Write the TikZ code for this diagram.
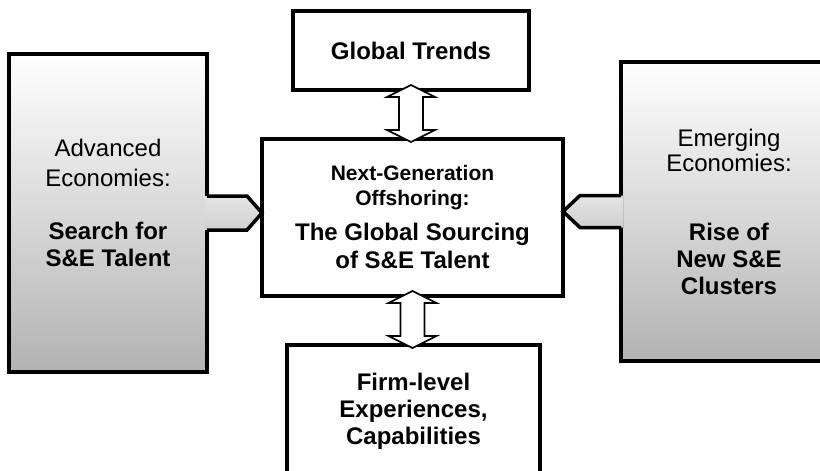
\documentclass[tikz,border=0pt]{standalone}
\usepackage{fontspec}
\setmainfont{Liberation Sans}
\usetikzlibrary{calc}

\begin{document}
\begin{tikzpicture}[
  x=1pt,y=-1pt,
  box/.style={rectangle,draw=black,line width=3.5pt,fill=white,inner sep=0pt,outer sep=0pt,
    align=center,font=\fontsize{24}{27}\selectfont},
  side/.style={box,top color=white,bottom color=black!30},
  tabfill/.style={top color=black!10,bottom color=black!19},
  tabline/.style={line width=3.5pt,line join=miter},
  twoway/.style={draw=black,line width=1.6pt,fill=white,line join=miter}
]

\useasboundingbox (0,0) rectangle (820,471);
\clip (0,0) rectangle (820,471);

\node[box,minimum width=236pt,minimum height=79pt] (trends) at (411,50.5) {\textbf{Global Trends}};
\node[box,minimum width=301pt,minimum height=157pt] (core) at (412.5,217.5)
  {{\fontsize{21}{24}\selectfont\bfseries Next-Generation}\\[-2pt]
   {\fontsize{21}{24}\selectfont\bfseries Offshoring:}\\[8pt]
   \textbf{The Global Sourcing}\\[1pt]\textbf{of S\&E Talent}};
\node[box,minimum width=253pt,minimum height=133pt] (firm) at (413.5,411.5)
  {\textbf{Firm-level}\\\textbf{Experiences,}\\\textbf{Capabilities}};
\node[side,minimum width=198pt,minimum height=318pt] (advanced) at (108,213)
  {Advanced\\[3pt]Economies:\\[26pt]\textbf{Search for}\\\textbf{S\&E Talent}\\[-7pt]\mbox{}};
\node[side,minimum width=216pt,minimum height=299pt] (emerging) at (729,211.5)
  {Emerging\\[-2pt]Economies:\\[42pt]\textbf{Rise of}\\\textbf{New S\&E}\\\textbf{Clusters}};

\coordinate (ltip) at (advanced.east -| core.west);
\coordinate (rtip) at (emerging.west -| core.east);
\fill[tabfill] ($(advanced.east)+(-2,-17)$) -- ($(ltip)+(-15,-17)$) -- (ltip) -- ($(ltip)+(-15,17)$) -- ($(advanced.east)+(-2,17)$) -- cycle;
\draw[tabline] ($(advanced.east)+(0,-17)$) -- ($(ltip)+(-15,-17)$) -- (ltip) -- ($(ltip)+(-15,17)$) -- ($(advanced.east)+(0,17)$);
\fill[tabfill] ($(emerging.west)+(2,-16)$) -- ($(rtip)+(17,-16)$) -- (rtip) -- ($(rtip)+(17,16)$) -- ($(emerging.west)+(2,16)$) -- cycle;
\draw[tabline] ($(emerging.west)+(0,-16)$) -- ($(rtip)+(17,-16)$) -- (rtip) -- ($(rtip)+(17,16)$) -- ($(emerging.west)+(0,16)$);

\coordinate (up1) at ($(trends.south)+(0,-5)$);
\coordinate (dn1) at ($(trends.south |- core.north)+(0,3)$);
\draw[twoway] (up1) -- ++(24,12) -- ++(-12,0) -- ($(dn1)+(12,-12)$) -- ++(12,0) -- (dn1)
  -- ++(-24,-12) -- ++(12,0) -- ($(up1)+(-12,12)$) -- ++(-12,0) -- cycle;

\coordinate (up2) at ($(core.south)+(0,-5)$);
\coordinate (dn2) at ($(core.south |- firm.north)+(0,3)$);
\draw[twoway] (up2) -- ++(24,12) -- ++(-12,0) -- ($(dn2)+(12,-12)$) -- ++(12,0) -- (dn2)
  -- ++(-24,-12) -- ++(12,0) -- ($(up2)+(-12,12)$) -- ++(-12,0) -- cycle;

\end{tikzpicture}
\end{document}
